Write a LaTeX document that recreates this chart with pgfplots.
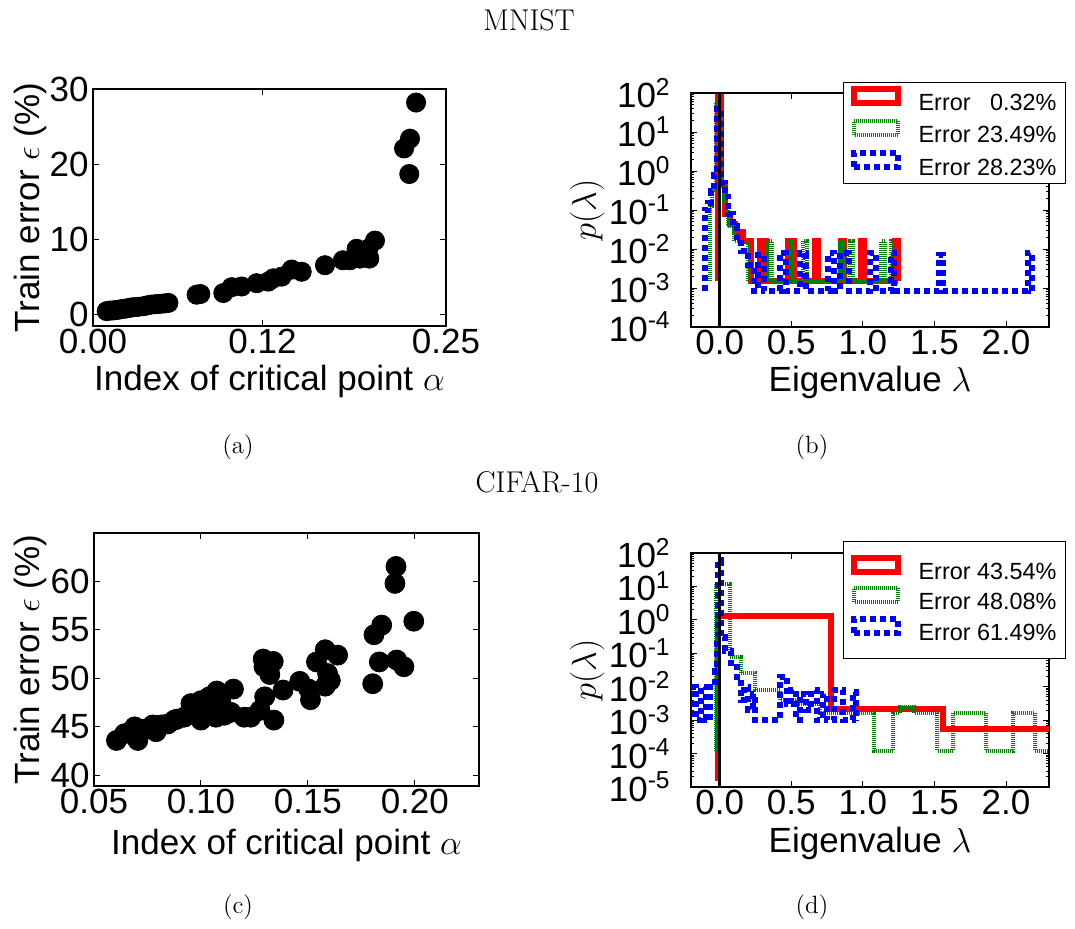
\documentclass[border=0pt]{standalone}
\usepackage{fontspec}
\usepackage{pgfplots}
\pgfplotsset{compat=1.18}
\newfontfamily\arial{Liberation Sans}
\definecolor{mplgreen}{rgb}{0,0.5,0}
\newcommand{\tfont}{\arial\fontsize{17.5}{20}\selectfont}
\newcommand{\lfont}{\arial\fontsize{11.7}{14}\selectfont}
\newcommand{\cfont}{\fontsize{15}{18}\selectfont}
\newcommand{\sfont}{\fontsize{12.5}{15}\selectfont}
\pgfplotsset{
  mybase/.style={
    scale only axis, anchor=south west,
    axis line style={black, line width=0.6pt},
    tick align=inside,
    major tick length=3pt, minor tick length=1.5pt,
    every tick/.style={black, line width=0.5pt},
    tick label style={font=\tfont},
    label style={font=\tfont},
    xticklabel style={inner sep=1.5pt},
    yticklabel style={inner sep=2pt},
  },
}
\begin{document}
\begin{tikzpicture}
\useasboundingbox (0,0) rectangle (537.5pt,464pt);
\node[font=\cfont] at (264.5pt,454pt) {MNIST};
\node[font=\cfont] at (268.5pt,223pt) {CIFAR-10};
\node[font=\sfont] at (119pt,240.5pt) {(a)};
\node[font=\sfont] at (406pt,240.5pt) {(b)};
\node[font=\sfont] at (119pt,10.5pt) {(c)};
\node[font=\sfont] at (406pt,10.5pt) {(d)};

% (a)
\begin{axis}[mybase, at={(46.5pt,301pt)}, width=176.5pt, height=118.5pt,
  xmin=0, xmax=0.25, ymin=-1.5, ymax=30,
  xtick={0,0.12,0.25}, xticklabels={0.00,0.12,0.25},
  ytick={0,10,20,30}, yticklabels={0,10,20,30},
  xlabel={Index of critical point $\alpha$},
  ylabel={Train error $\epsilon$ (\%)},
  xlabel style={at={(axis description cs:0.5,-0.236)}, anchor=center},
  ylabel style={at={(axis description cs:-0.178,0.5)}, anchor=center},
]
\addplot[only marks, mark=*, mark size=4.8pt, black] table {
x y
0.0097 0.48
0.0120 0.55
0.0144 0.57
0.0165 0.62
0.0191 0.70
0.0215 0.78
0.0238 0.83
0.0262 0.92
0.0286 1.00
0.0320 1.05
0.0356 1.13
0.0385 1.25
0.0415 1.35
0.0445 1.40
0.0474 1.44
0.0505 1.50
0.0534 1.57
0.0734 2.66
0.0760 2.75
0.0923 2.88
0.0982 3.66
0.1053 3.75
0.1159 4.19
0.1242 4.40
0.1277 4.84
0.1336 5.06
0.1407 6.00
0.1478 5.71
0.1643 6.58
0.1770 7.24
0.1820 7.24
0.1890 7.46
0.1957 7.46
0.1867 8.76
0.1950 8.76
0.1997 9.85
0.2203 22.1
0.2245 23.4
0.2240 18.7
0.2288 28.2
};
\end{axis}

% (b)
\begin{axis}[mybase, at={(345.5pt,300.5pt)}, width=179pt, height=117pt,
  ymode=log, xmin=-0.2, xmax=2.3, ymin=1e-4, ymax=1e2,
  xtick={0,0.5,1,1.5,2}, xticklabels={0.0,0.5,1.0,1.5,2.0},
  xlabel={Eigenvalue $\lambda$},
  ylabel={$p(\lambda)$},
  yticklabel style={inner sep=10pt},
  ytick={1e-4,1e-3,1e-2,1e-1,1,10,100},
  yticklabels={10\textsuperscript{-4},10\textsuperscript{-3},10\textsuperscript{-2},10\textsuperscript{-1},10\textsuperscript{0},10\textsuperscript{1},10\textsuperscript{2}},
  minor ytick={2e-4,3e-4,4e-4,5e-4,6e-4,7e-4,8e-4,9e-4,2e-3,3e-3,4e-3,5e-3,6e-3,7e-3,8e-3,9e-3,2e-2,3e-2,4e-2,5e-2,6e-2,7e-2,8e-2,9e-2,0.2,0.3,0.4,0.5,0.6,0.7,0.8,0.9,2,3,4,5,6,7,8,9,20,30,40,50,60,70,80,90},
  xlabel style={at={(axis description cs:0.5,-0.235)}, anchor=center},
  ylabel style={at={(axis description cs:-0.29,0.5)}, anchor=center},
  legend cell align=left,
  legend image code/.code={\draw[#1] (0pt,0.5pt) rectangle (22pt,7.5pt);},
  legend style={at={(axis description cs:0.4246,1.047)}, anchor=north west,
    draw=black, line width=0.6pt, fill=white, font=\lfont,
    inner xsep=3.5pt, inner ysep=1.75pt, row sep=1.5pt, column sep=8pt,
    nodes={inner sep=1pt}, cells={anchor=west}},
]
\addplot[red, line width=3pt, const plot] coordinates {
(-0.015,1.5e-3) (-0.015,80) (0.008,0.45) (0.035,0.08) (0.07,0.045) (0.11,0.028)
(0.16,0.016) (0.22,1.5e-3) (0.285,0.016) (0.325,1.5e-3) (0.475,0.016) (0.52,1.5e-3)
(0.665,0.016) (0.685,1.5e-3) (0.85,0.016) (0.87,1.5e-3) (0.99,0.016) (1.01,1.5e-3)
(1.225,0.016) (1.245,1.5e-3)
};
\addlegendentry{Error\hphantom{2} 0.32\%}
\addplot[mplgreen, line width=2pt, dash pattern=on 0.5pt off 0.5pt, const plot] coordinates {
(-0.07,1.5e-3) (-0.07,0.13) (-0.05,0.33) (-0.025,60) (0.005,0.6) (0.03,0.15)
(0.06,0.04) (0.1,0.016) (0.2,1.5e-3) (0.34,0.016) (0.365,1.5e-3) (0.475,0.016)
(0.5,1.5e-3) (0.585,0.016) (0.61,1.5e-3) (0.84,0.016) (0.865,1.5e-3) (0.91,0.016)
(0.93,1.5e-3) (1.13,0.016) (1.155,1.5e-3) (1.2,0.016) (1.225,1.5e-3)
};
\addlegendentry{Error 23.49\%}
\addplot[blue, line width=3pt, dash pattern=on 3pt off 2pt, const plot] coordinates {
(-0.1,8.5e-4) (-0.1,0.1) (-0.08,0.15) (-0.06,0.3) (-0.04,0.8) (-0.02,40) (0.01,0.5)
(0.035,0.22) (0.06,0.08) (0.09,0.04) (0.12,0.02) (0.15,0.009) (0.2,0.004)
(0.24,8.5e-4) (0.27,0.007) (0.31,8.5e-4) (0.42,0.008) (0.46,8.5e-4) (0.56,0.008)
(0.6,8.5e-4) (0.76,0.008) (0.8,8.5e-4) (0.84,0.008) (0.9,8.5e-4) (1.05,0.008)
(1.09,8.5e-4) (1.2,0.008) (1.22,8.5e-4) (1.53,0.007) (1.56,8.5e-4) (2.15,0.008)
(2.18,8.5e-4)
};
\addlegendentry{Error 28.23\%}
\addplot[black, line width=1.5pt, forget plot] coordinates {(0,1e-4) (0,1e2)};
\end{axis}

% (c)
\begin{axis}[mybase, at={(47pt,71pt)}, width=192.5pt, height=126.5pt,
  xmin=0.05, xmax=0.23, ymin=38.9, ymax=65,
  xtick={0.05,0.10,0.15,0.20}, xticklabels={0.05,0.10,0.15,0.20},
  ytick={40,45,50,55,60}, yticklabels={40,45,50,55,60},
  xlabel={Index of critical point $\alpha$},
  ylabel={Train error $\epsilon$ (\%)},
  xlabel style={at={(axis description cs:0.5,-0.233)}, anchor=center},
  ylabel style={at={(axis description cs:-0.166,0.5)}, anchor=center},
]
\addplot[only marks, mark=*, mark size=5pt, black] table {
x y
0.1912 61.55
0.1907 59.8
0.1995 55.9
0.1845 55.5
0.1809 54.5
0.1834 51.7
0.1915 51.9
0.1949 51.2
0.1803 49.45
0.1639 52.4
0.1581 52.96
0.1540 51.7
0.1592 50.5
0.1605 49.8
0.1581 49.2
0.1462 49.7
0.1504 48.9
0.1512 47.8
0.1384 48.8
0.1291 52.0
0.1338 51.75
0.1295 51.2
0.1322 50.4
0.1298 48.1
0.1341 45.7
0.1276 46.7
0.1233 46.0
0.1202 46.0
0.1152 48.9
0.1074 48.7
0.1039 48.1
0.1000 47.7
0.0953 47.4
0.1140 46.5
0.1109 46.2
0.1070 46.0
0.1031 46.4
0.1000 45.7
0.0969 46.5
0.0922 46.0
0.0888 45.8
0.0845 45.3
0.0814 45.2
0.0775 45.2
0.0790 44.5
0.0744 44.8
0.0690 45.0
0.0705 43.6
0.0643 44.3
0.0605 43.6
0.1047 47.0
0.1093 47.7
0.0953 46.7
0.0876 45.7
};
\end{axis}

% (d)
\begin{axis}[mybase, at={(345.5pt,70.5pt)}, width=179pt, height=117pt,
  ymode=log, xmin=-0.2, xmax=2.3, ymin=1e-5, ymax=1e2,
  xtick={0,0.5,1,1.5,2}, xticklabels={0.0,0.5,1.0,1.5,2.0},
  xlabel={Eigenvalue $\lambda$},
  ylabel={$p(\lambda)$},
  yticklabel style={inner sep=10pt},
  ytick={1e-5,1e-4,1e-3,1e-2,1e-1,1,10,100},
  yticklabels={10\textsuperscript{-5},10\textsuperscript{-4},10\textsuperscript{-3},10\textsuperscript{-2},10\textsuperscript{-1},10\textsuperscript{0},10\textsuperscript{1},10\textsuperscript{2}},
  minor ytick={2e-5,3e-5,4e-5,5e-5,6e-5,7e-5,8e-5,9e-5,2e-4,3e-4,4e-4,5e-4,6e-4,7e-4,8e-4,9e-4,2e-3,3e-3,4e-3,5e-3,6e-3,7e-3,8e-3,9e-3,2e-2,3e-2,4e-2,5e-2,6e-2,7e-2,8e-2,9e-2,0.2,0.3,0.4,0.5,0.6,0.7,0.8,0.9,2,3,4,5,6,7,8,9,20,30,40,50,60,70,80,90},
  xlabel style={at={(axis description cs:0.5,-0.24)}, anchor=center},
  ylabel style={at={(axis description cs:-0.29,0.5)}, anchor=center},
  legend cell align=left,
  legend image code/.code={\draw[#1] (0pt,0.5pt) rectangle (22pt,7.5pt);},
  legend style={at={(axis description cs:0.4246,1.051)}, anchor=north west,
    draw=black, line width=0.6pt, fill=white, font=\lfont,
    inner xsep=3.5pt, inner ysep=6.5pt, row sep=0.75pt, column sep=8pt,
    nodes={inner sep=1pt}, cells={anchor=west}},
]
\addplot[red, line width=3pt, const plot] coordinates {
(-0.015,1.5e-5) (-0.015,1.3) (0.78,2.2e-3) (1.56,5.6e-4) (2.4,5.6e-4)
};
\addlegendentry{Error 43.54\%}
\addplot[mplgreen, line width=2pt, dash pattern=on 0.5pt off 0.5pt, const plot] coordinates {
(-0.025,1.2e-4) (-0.025,12) (0.07,0.08) (0.15,0.025) (0.25,0.008) (0.42,0.004)
(0.55,0.003) (0.7,0.0016) (1.08,1.2e-4) (1.21,0.0016) (1.26,0.0025) (1.36,0.0016)
(1.52,1.2e-4) (1.63,0.0016) (1.86,1.2e-4) (2.05,0.0016) (2.2,1.2e-4) (2.35,1.2e-4)
};
\addlegendentry{Error 48.08\%}
\addplot[blue, line width=3pt, dash pattern=on 3pt off 2pt, const plot] coordinates {
(-0.25,0.001) (-0.2,0.01) (-0.165,0.001) (-0.13,0.01) (-0.095,0.001) (-0.07,0.01)
(-0.035,0.03) (-0.02,0.3) (-0.01,60) (0.01,0.3) (0.04,0.12) (0.08,0.04) (0.12,0.02)
(0.15,0.004) (0.17,0.01) (0.2,0.002) (0.23,0.006) (0.25,0.001) (0.42,0.02)
(0.47,0.003) (0.5,0.008) (0.53,0.001) (0.56,0.006) (0.6,0.002) (0.64,0.008)
(0.68,0.001) (0.72,0.006) (0.75,0.001) (0.8,0.008) (0.86,0.001) (0.93,0.007)
(0.95,0.001)
};
\addlegendentry{Error 61.49\%}
\addplot[black, line width=1.5pt, forget plot] coordinates {(0,1e-5) (0,1e2)};
\end{axis}
\end{tikzpicture}
\end{document}
